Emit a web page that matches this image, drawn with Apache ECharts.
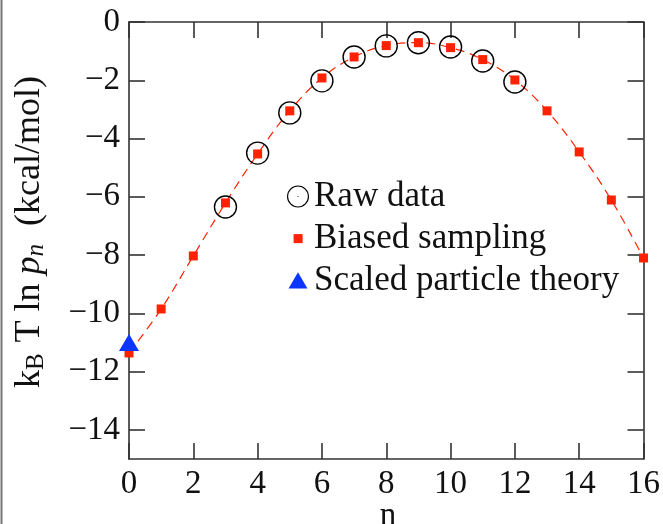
<!DOCTYPE html>
<html><head><meta charset="utf-8">
<script src="https://cdn.jsdelivr.net/npm/echarts@6/dist/echarts.min.js"></script>
<style>html,body{margin:0;padding:0;background:#fff}#c{width:663px;height:524px}</style>
</head><body><div id="c"></div>
<script>
const biasedN = [0,1,2,3,4,5,6,7,8,9,10,11,12,13,14,15,16];
const biasedY = [-11.36,-9.85,-8.03,-6.21,-4.53,-3.05,-1.92,-1.20,-0.81,-0.71,-0.88,-1.29,-1.99,-3.05,-4.46,-6.11,-8.10];
const rawN = [3,4,5,6,7,8,9,10,11,12];
const rawY = [-6.35,-4.50,-3.12,-2.02,-1.20,-0.82,-0.71,-0.86,-1.34,-2.06];
const sptN = [0];
const sptY = [-11.0];
const xTicks = [0,2,4,6,8,10,12,14,16];
const yTicks = [0,-2,-4,-6,-8,-10,-12,-14];

const FONT = 'Liberation Serif';
const FS = 33;
const RED = '#ff2200';
const BLUE = '#0a36ff';
const AX = '#333';
const fmtY = v => (v < 0 ? '\u2212' + Math.abs(v) : String(v));

const chart = echarts.init(document.getElementById('c'), null, {renderer: 'canvas'});
function ax(extra) {
  return Object.assign({
    type: 'value',
    axisLine: {show: true, onZero: false, lineStyle: {color: AX, width: 1.6}},
    splitLine: {show: false}
  }, extra);
}
chart.setOption({
  animation: false,
  grid: {left: 129, right: 17, top: 22, bottom: 65},
  xAxis: [
    ax({min: 0, max: 16, position: 'bottom',
      axisTick: {show: true, inside: true, length: 16, customValues: xTicks, lineStyle: {color: AX, width: 1.6}},
      axisLabel: {fontFamily: FONT, fontSize: FS, color: '#111', margin: 9, customValues: xTicks}}),
    ax({min: 0, max: 16, position: 'top',
      axisTick: {show: true, inside: true, length: 16, customValues: xTicks, lineStyle: {color: AX, width: 1.6}},
      axisLabel: {show: false}})
  ],
  yAxis: [
    ax({min: -15, max: 0, position: 'left',
      axisTick: {show: true, inside: true, length: 16, customValues: yTicks, lineStyle: {color: AX, width: 1.6}},
      axisLabel: {fontFamily: FONT, fontSize: FS, color: '#111', margin: 9, customValues: yTicks, formatter: fmtY}}),
    ax({min: -15, max: 0, position: 'right',
      axisTick: {show: true, inside: true, length: 16, customValues: yTicks, lineStyle: {color: AX, width: 1.6}},
      axisLabel: {show: false}})
  ],
  legend: {
    orient: 'vertical', left: 282, top: 174, itemGap: 7, itemWidth: 22, itemHeight: 22,
    textStyle: {fontFamily: FONT, fontSize: 35, color: '#111'},
    data: [
      {name: 'Raw data', icon: 'path://M50,1A49,49,0,1,1,49.99,1ZM50,6A44,44,0,1,0,50.01,6ZM50,47.5A2.5,2.5,0,1,1,49.99,47.5Z', itemStyle: {color: '#000', borderWidth: 0}},
      {name: 'Biased sampling', icon: 'path://M0,0L0,0M100,100L100,100M30,30L71,30L71,71L30,71Z', itemStyle: {color: RED, borderWidth: 0}},
      {name: 'Scaled particle theory', icon: 'path://M0,0L0,0M100,100L100,100M50,13L93,86L7,86Z', itemStyle: {color: BLUE, borderWidth: 0}}
    ]
  },
  series: [
    {name: 'fit', type: 'line', data: biasedN.map((n,i)=>[n, biasedY[i]]), smooth: 0.4, symbol: 'none',
      lineStyle: {color: RED, width: 1.2, type: [9, 6]}, z: 2, silent: true},
    {name: 'Raw data', type: 'scatter', data: rawN.map((n,i)=>[n, rawY[i]]), symbol: 'circle', symbolSize: 22,
      itemStyle: {color: 'rgba(0,0,0,0)', borderColor: '#000', borderWidth: 1.4, opacity: 1}, z: 3},
    {name: 'Biased sampling', type: 'scatter', data: biasedN.map((n,i)=>[n, biasedY[i]]), symbol: 'rect', symbolSize: 9,
      itemStyle: {color: RED, opacity: 1}, z: 4},
    {name: 'Scaled particle theory', type: 'scatter', data: sptN.map((n,i)=>[n, sptY[i]]), symbol: 'triangle', symbolSize: [20, 17],
      itemStyle: {color: BLUE, opacity: 1}, z: 5}
  ],
  graphic: [
    {type: 'line', shape: {x1: 1.5, y1: 0, x2: 1.5, y2: 524}, style: {stroke: '#777', lineWidth: 2}},
    {type: 'text', x: 388, y: 516, style: {text: 'n', font: FS + 'px "Liberation Serif"', fill: '#111', align: 'center', verticalAlign: 'middle'}},
    {type: 'text', x: 30, y: 232, rotation: Math.PI/2,
      style: {
        text: '{n|k}{s|B}{n| T ln }{i|p}{s2|n}{n|  (kcal/mol)}',
        align: 'center', verticalAlign: 'middle',
        rich: {
          n: {fontFamily: FONT, fontSize: 36, fill: '#111'},
          s: {fontFamily: FONT, fontSize: 25, fill: '#111', padding: [13,2,0,0]},
          i: {fontFamily: FONT, fontStyle: 'italic', fontSize: 36, fill: '#111'},
          s2: {fontFamily: FONT, fontStyle: 'italic', fontSize: 25, fill: '#111', padding: [13,0,0,0]}
        }
      }}
  ]
});
</script></body></html>
